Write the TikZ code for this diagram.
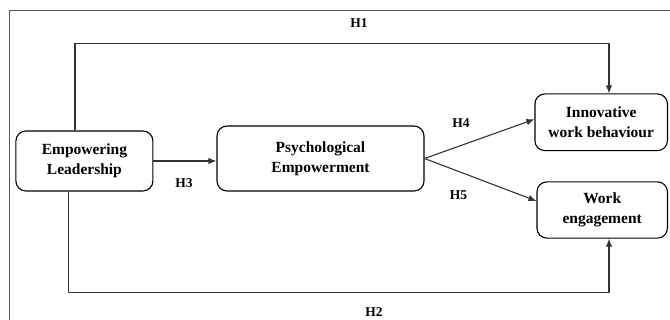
\documentclass[tikz,border=0pt]{standalone}
\usepackage{fontspec}
\setmainfont{Liberation Serif}
\usetikzlibrary{arrows.meta}
\tikzset{
 box/.style={draw, rounded corners=10pt, line width=1.1pt, align=center,
  font=\bfseries\fontsize{15.5}{20}\selectfont, inner sep=0pt},
 hyp/.style={font=\bfseries\fontsize{13.5}{16}\selectfont},
 link/.style={draw=black!80, line width=1.1pt, -{Latex[length=8pt,width=6.5pt]}}
}
\begin{document}
\begin{tikzpicture}[x=1pt, y=-1pt]
 \useasboundingbox (0,0) rectangle (670,320);
 \draw[gray!70!black, line width=1pt] (9.5,10.5) rectangle (675,340);
 \node[box, minimum width=137pt, minimum height=60pt] (lead) at (84.4,161) {Empowering\\Leadership};
 \node[box, minimum width=207pt, minimum height=65pt] (psy) at (320.5,158.5) {Psychological\\Empowerment};
 \node[box, minimum width=132.5pt, minimum height=56.7pt] (inno) at (601.2,122.3) {Innovative\\work behaviour};
 \node[box, minimum width=130.5pt, minimum height=56.3pt] (work) at (602.2,210) {Work\\engagement};
 \coordinate (t1) at (609,43.3);% 上の折れ線
 \coordinate (t2) at (609,292.7);% 下の折れ線
 \draw[link] ([xshift=-9.4pt]lead.north) |- (t1) -- (t1 |- inno.north);
 \draw[link] ([xshift=-16pt]lead.south) |- (t2) -- (t2 |- work.south);
 \draw[link] (lead.east) -- (lead.east -| psy.west);
 \draw[link] (psy.east) -- ([yshift=3pt]inno.west);
 \draw[link] (psy.east) -- ([yshift=9pt]work.west);
 \node[hyp] (h1) at (359,23) {H1};
 \node[hyp] (h2) at (374,312) {H2};
 \node[hyp] (h3) at (184,183) {H3};
 \node[hyp] (h4) at (461,123) {H4};
 \node[hyp] (h5) at (458.5,195) {H5};
\end{tikzpicture}
\end{document}
